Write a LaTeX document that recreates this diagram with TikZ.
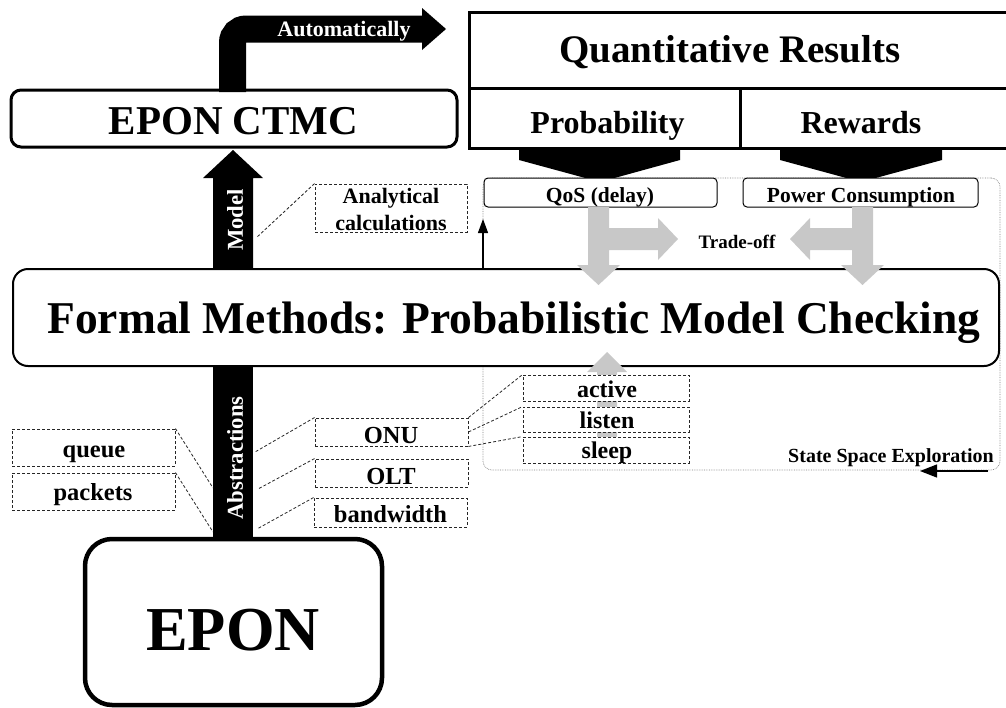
\documentclass[tikz,border=0pt]{standalone}
\usepackage{fontspec}
\setmainfont{Liberation Serif}
\usetikzlibrary{arrows.meta}
\newcommand\fpx[1]{\fontsize{#1}{#1}\selectfont\bfseries}
\definecolor{tgray}{RGB}{200,200,200}
\tikzset{
  txt/.style={inner sep=0pt, anchor=base},
  dbox/.style={draw=black!85, line width=0.9pt, dash pattern=on 3pt off 2pt, inner sep=0pt, fill=white},
  dline/.style={draw=black!85, line width=0.8pt, dash pattern=on 3pt off 2pt},
  sbox/.style={draw, line width=1pt, rounded corners=4pt, fill=white, inner sep=0pt},
  bigbox/.style={draw, fill=white, inner sep=0pt},
}
\begin{document}
\begin{tikzpicture}[x=1pt,y=-1pt]
\useasboundingbox (0,0) rectangle (1006,707);

% state space exploration region
\node[draw=gray, line width=0.7pt, densely dotted, rounded corners=9pt, inner sep=0pt,
      minimum width=517pt, minimum height=292pt] (ss) at (741.5,324) {};

% Model and Abstractions shafts
\fill (213,272) -- (213,178) -- (203,178) -- (233,150) -- (263,178) -- (253,178) -- (253,272) -- cycle;
\fill (213,362) rectangle (253,541);

% Quantitative Results table
\draw[line width=3pt] (1012,12) -- (469,12) -- (469,148) -- (1012,148);
\draw[line width=3pt] (469,88) -- (1012,88);
\draw[line width=3pt] (740,88) -- (740,148);
\node[txt, font=\fpx{39}] (qr) at (730,62) {Quantitative Results};
\node[txt, font=\fpx{32}] (prob) at (607.5,133) {Probability};
\node[txt, font=\fpx{32}] (rew) at (861,133) {Rewards};

% funnels
\fill (519,147) -- (680,147) -- (680,160) -- (600,182) -- (519,160) -- cycle;
\fill (780,147) -- (942,147) -- (942,160) -- (861,182) -- (780,160) -- cycle;

% QoS and power boxes
\node[sbox, minimum width=233pt, minimum height=29pt] (qos) at (600.5,192.5) {};
\node[txt, font=\fpx{21.5}] (qost) at (600,202) {QoS (delay)};
\node[sbox, minimum width=235pt, minimum height=29pt] (pow) at (860.5,192.5) {};
\node[txt, font=\fpx{21.5}] (powt) at (861,202) {Power Consumption};

% EPON CTMC box
\node[bigbox, line width=3pt, rounded corners=10pt, minimum width=446pt, minimum height=57pt] (ctmc) at (234,118.5) {};
\node[txt, font=\fpx{41}] (ctmct) at (233.5,134) {EPON CTMC};

% Automatically arrow
\coordinate (autoS) at (232.5,92);
\coordinate (autoE) at (423,29);
\draw[line width=27pt, rounded corners=13.5pt] (autoS) |- (autoE);
\fill (422,8) -- (446,29) -- (422,50) -- cycle;
\node[txt, white, font=\fpx{22}] (auto) at (344,36) {Automatically};

% Formal methods box
\node[bigbox, line width=2pt, rounded corners=15pt, minimum width=986pt, minimum height=97pt] (fm) at (506,317.5) {};
\node[txt, font=\fpx{45.5}] (fmt) at (514,333) {Formal Methods: Probabilistic Model Checking};

% Model / Abstractions labels
\node[rotate=90, white, inner sep=0pt, font=\fpx{22.7}] (model) at (235,220) {Model};
\node[rotate=90, white, inner sep=0pt, font=\fpx{22.7}] (abs) at (235,458) {Abstractions};

% gray trade-off arrows
\fill[tgray] (588,207) -- (609,207) -- (609,228) -- (658,228) -- (658,218) -- (678,239) -- (658,260) -- (658,250) -- (609,250) -- (609,265) -- (620,265) -- (598.5,285) -- (577,265) -- (588,265) -- cycle;
\fill[tgray] (873,207) -- (852,207) -- (852,228) -- (810,228) -- (810,218) -- (790,239) -- (810,260) -- (810,250) -- (852,250) -- (852,265) -- (841,265) -- (862.5,285) -- (884,265) -- (873,265) -- cycle;
\node[txt, font=\fpx{19}] (trade) at (737,248) {Trade-off};

% lower gray arrow
\fill[tgray] (597,452) -- (597,372) -- (587,372) -- (607,352) -- (627,372) -- (617,372) -- (617,452) -- cycle;

% state space arrows
\coordinate (ssA) at (988,471);
\coordinate (ssB) at (920,471);
\draw[-{Triangle[length=17pt,width=13pt]}, line width=1.3pt] (ssA) -- (ssB);
\node[txt, font=\fpx{20}] (sst) at (891,462) {State Space Exploration};
\coordinate (upA) at (483,268);
\coordinate (upB) at (483,219);
\draw[-{Triangle[length=14pt,width=10pt]}, line width=1.2pt] (upA) -- (upB);

% Analytical calculations
\node[dbox, minimum width=152pt, minimum height=48pt] (anal) at (391,208) {};
\node[txt, font=\fpx{22}] (anal1) at (391,203) {Analytical};
\node[txt, font=\fpx{22}] (anal2) at (391,230) {calculations};
\coordinate (mA) at (256,238);
\draw[dline] (anal.north west) -- (mA);

% abstraction labels
\node[dbox, minimum width=163pt, minimum height=37pt] (queue) at (93.5,447.5) {};
\node[txt, font=\fpx{24.5}] (queuet) at (94,457) {queue};
\node[dbox, minimum width=163pt, minimum height=37pt] (pack) at (93.5,491.5) {};
\node[txt, font=\fpx{24.5}] (packt) at (93,500) {packets};
\node[dbox, minimum width=153pt, minimum height=28pt] (onu) at (391.5,432) {};
\node[txt, font=\fpx{24.5}] (onut) at (391,443) {ONU};
\node[dbox, minimum width=153pt, minimum height=28pt] (olt) at (391.5,473) {};
\node[txt, font=\fpx{24.5}] (oltt) at (391,484) {OLT};
\node[dbox, minimum width=153pt, minimum height=29pt] (bw) at (390.5,512.5) {};
\node[txt, font=\fpx{24.5}] (bwt) at (390.5,522) {bandwidth};

\coordinate (aQ) at (213,488);
\coordinate (aP) at (213,532);
\coordinate (aO) at (255,452);
\coordinate (aL) at (258,489);
\coordinate (aB) at (257,529);
\draw[dline] (queue.north east) -- (aQ);
\draw[dline] (pack.north east) -- (aP);
\draw[dline] (onu.north west) -- (aO);
\draw[dline] (olt.north west) -- (aL);
\draw[dline] (bw.north west) -- (aB);

% ONU states
\node[dbox, minimum width=166pt, minimum height=26pt] (act) at (606,388) {};
\node[txt, font=\fpx{24}] (actt) at (607,397) {active};
\node[dbox, minimum width=166pt, minimum height=25pt] (lis) at (606,419.5) {};
\node[txt, font=\fpx{24}] (list) at (607,428) {listen};
\node[dbox, minimum width=166pt, minimum height=26pt] (slp) at (606,450) {};
\node[txt, font=\fpx{24}] (slpt) at (607,458) {sleep};
\draw[dline] (onu.north east) -- (act.north west);
\draw[dline] (onu.east) -- (lis.north west);
\draw[dline] (onu.south east) -- (slp.north west);

% EPON box
\node[bigbox, line width=4.5pt, rounded corners=27pt, minimum width=297pt, minimum height=166pt] (epon) at (233.5,622) {};
\node[txt, font=\fpx{62.5}] (epont) at (233,650) {EPON};
\end{tikzpicture}
\end{document}
